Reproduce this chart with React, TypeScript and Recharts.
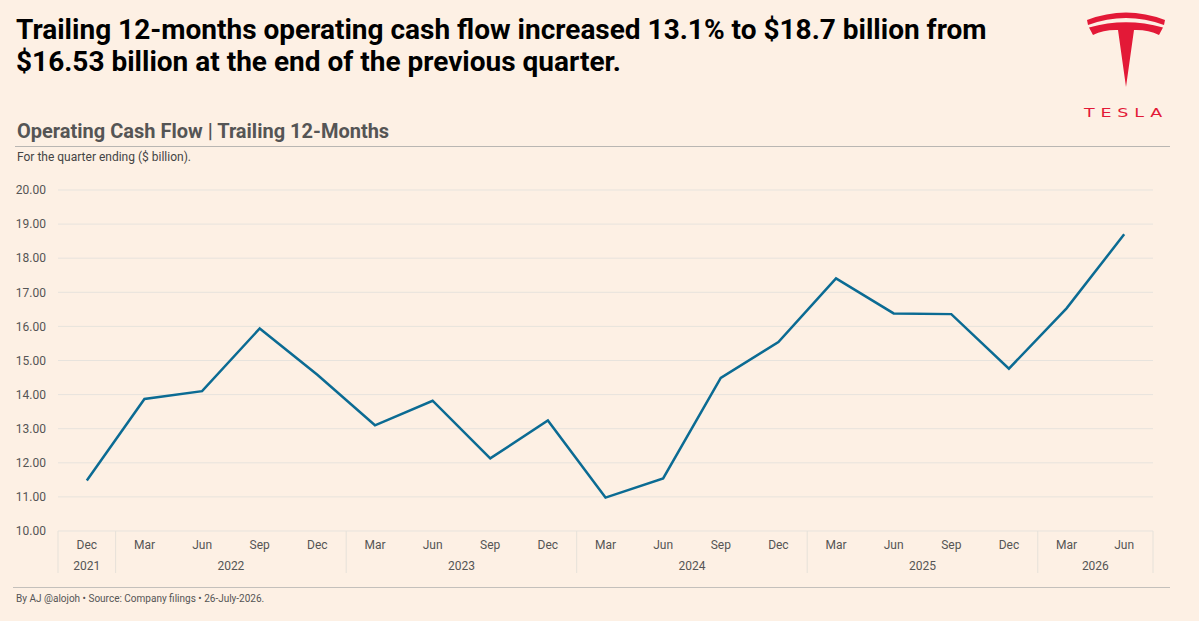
import React from "react";
import { LineChart, Line, XAxis, YAxis, CartesianGrid } from "recharts";

// Quarter-end labels and trailing 12-month operating cash flow ($ billion)
const months = ["Dec", "Mar", "Jun", "Sep", "Dec", "Mar", "Jun", "Sep", "Dec", "Mar", "Jun", "Sep", "Dec", "Mar", "Jun", "Sep", "Dec", "Mar", "Jun"];
const years = [2021, 2022, 2022, 2022, 2022, 2023, 2023, 2023, 2023, 2024, 2024, 2024, 2024, 2025, 2025, 2025, 2025, 2026, 2026];
const cashFlow = [11.48, 13.87, 14.1, 15.94, 14.58, 13.1, 13.82, 12.13, 13.24, 10.98, 11.54, 14.49, 15.54, 17.41, 16.38, 16.36, 14.76, 16.53, 18.7];
const yTicks = [10, 11, 12, 13, 14, 15, 16, 17, 18, 19, 20];

const data = months.map((m, i) => ({ key: `${m} ${years[i]}`, value: cashFlow[i] }));

const W = 1199;
const H = 621;
const PLOT_LEFT = 58;
const PLOT_RIGHT = 1153;
const PLOT_TOP = 190;
const PLOT_BOTTOM = 531;
const X_AXIS_H = 45;
const BAND = (PLOT_RIGHT - PLOT_LEFT) / months.length;

const TEXT_GREY = "#555555";
const SEP = "#e6e1d9";
const BG = "#fdf0e4";
const RED = "#e31937";

const QuarterTick = (props: any) => {
  const { x, y, index } = props;
  const i = index as number;
  const isGroupStart = i === 0 || years[i] !== years[i - 1];
  const isLast = i === months.length - 1;
  let groupSize = 0;
  if (isGroupStart) {
    groupSize = years.filter((yr) => yr === years[i]).length;
  }
  return (
    <g>
      <text x={x} y={y + 18} textAnchor="middle" fontSize={12} fill={TEXT_GREY} fontFamily="Roboto">
        {months[i]}
      </text>
      {isGroupStart && (
        <>
          <line x1={x - BAND / 2} x2={x - BAND / 2} y1={y} y2={y + 42} stroke={SEP} strokeWidth={1} />
          <text
            x={x + ((groupSize - 1) * BAND) / 2}
            y={y + 39}
            textAnchor="middle"
            fontSize={12}
            fill={TEXT_GREY}
            fontFamily="Roboto"
          >
            {years[i]}
          </text>
        </>
      )}
      {isLast && <line x1={x + BAND / 2} x2={x + BAND / 2} y1={y} y2={y + 42} stroke={SEP} strokeWidth={1} />}
    </g>
  );
};

const TeslaLogo = () => (
  <svg width={W} height={H} style={{ position: "absolute", left: 0, top: 0 }}>
    <path d="M1087,20 Q1126,5 1165,20 L1164,25 Q1126,11 1088,25 Z" fill={RED} />
    <path
      d="M1089,27.5 Q1126,17 1163,27.5 L1159,35 Q1148,29.5 1134,30 L1126,87 L1118,30 Q1104,29.5 1093,35 Z"
      fill={RED}
    />
    <text
      x={1084}
      y={117}
      fontSize={12}
      fill={RED}
      fontFamily="DejaVu Sans"
      letterSpacing={4}
      textLength={84}
      lengthAdjust="spacingAndGlyphs"
    >
      TESLA
    </text>
  </svg>
);

export default function App() {
  return (
    <div
      style={{
        position: "absolute",
        left: 0,
        top: 0,
        width: W,
        height: H,
        background: BG,
        fontFamily: "Roboto, sans-serif",
        overflow: "hidden",
      }}
    >
      <div
        style={{
          position: "absolute",
          left: 16,
          top: 14,
          fontSize: 28,
          fontWeight: 700,
          lineHeight: "32px",
          color: "#000",
          whiteSpace: "nowrap",
        }}
      >
        <div>Trailing 12-months operating cash flow increased 13.1% to $18.7 billion from</div>
        <div>$16.53 billion at the end of the previous quarter.</div>
      </div>

      <div
        style={{
          position: "absolute",
          left: 17,
          top: 119,
          fontSize: 20,
          fontWeight: 700,
          color: TEXT_GREY,
          whiteSpace: "nowrap",
        }}
      >
        Operating Cash Flow | Trailing 12-Months
      </div>
      <div style={{ position: "absolute", left: 15, top: 146, width: 1155, height: 1, background: "#b9b6b2" }} />
      <div style={{ position: "absolute", left: 17, top: 150, fontSize: 12, color: "#444", whiteSpace: "nowrap" }}>
        For the quarter ending ($ billion).
      </div>

      <div style={{ position: "absolute", left: 0, top: 0 }}>
        <LineChart
          width={W}
          height={H}
          data={data}
          margin={{ top: PLOT_TOP, right: W - PLOT_RIGHT, bottom: H - PLOT_BOTTOM - X_AXIS_H, left: 0 }}
        >
          <CartesianGrid vertical={false} stroke="#e7e3dd" strokeWidth={1} />
          <XAxis
            dataKey="key"
            interval={0}
            tickLine={false}
            axisLine={false}
            tickSize={0}
            tickMargin={0}
            height={X_AXIS_H}
            padding={{ left: BAND / 2, right: BAND / 2 }}
            tick={<QuarterTick />}
          />
          <YAxis
            domain={[10, 20]}
            ticks={yTicks}
            width={PLOT_LEFT}
            tickLine={false}
            axisLine={false}
            tickSize={6}
            tickMargin={6}
            tickFormatter={(v: number) => v.toFixed(2)}
            tick={{ fontSize: 12, fill: TEXT_GREY, fontFamily: "Roboto" }}
          />
          <Line
            type="linear"
            dataKey="value"
            stroke="#0b6b93"
            strokeWidth={2.5}
            dot={false}
            activeDot={false}
            isAnimationActive={false}
          />
        </LineChart>
      </div>

      <div style={{ position: "absolute", left: 13, top: 587, width: 1157, height: 1, background: "#c4c0bb" }} />
      <div style={{ position: "absolute", left: 16, top: 593, fontSize: 10, color: TEXT_GREY, whiteSpace: "nowrap" }}>
        By AJ @alojoh • Source: Company filings • 26-July-2026.
      </div>

      <TeslaLogo />
    </div>
  );
}
